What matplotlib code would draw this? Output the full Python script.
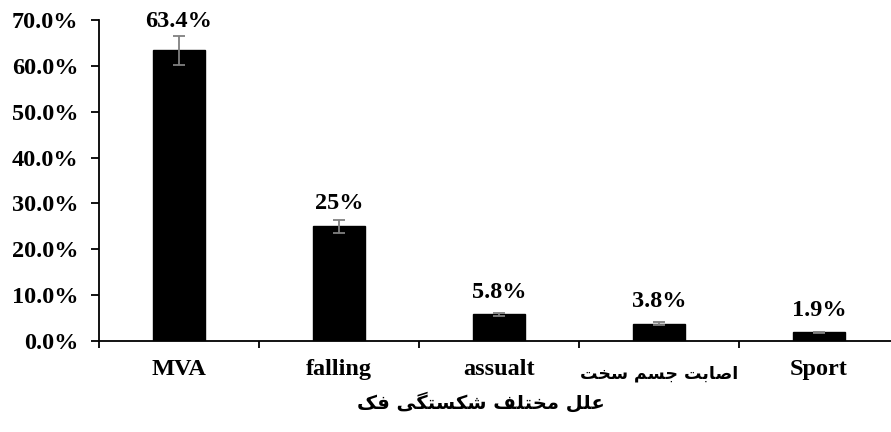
import matplotlib
matplotlib.use("Agg")
import matplotlib.pyplot as plt
from matplotlib.ticker import FixedLocator

# ---- data ----
categories = ['MVA', 'falling', 'assualt', 'اصابت جسم سخت', 'Sport']
values = [63.4, 25.0, 5.8, 3.8, 1.9]
errors = [3.2, 1.4, 0.3, 0.25, 0.15]
value_labels = ['63.4%', '25%', '5.8%', '3.8%', '1.9%']
yticks = [0, 10, 20, 30, 40, 50, 60, 70]
ytick_labels = ['0.0%', '10.0%', '20.0%', '30.0%', '40.0%', '50.0%', '60.0%', '70.0%']
xlabel_text = 'علل مختلف شکستگی فک'

# ---- minimal Arabic/Persian shaping (presentation forms + visual order) ----
FORMS = {
    '\u0627': ('\uFE8D', '\uFE8E', None, None),
    '\u0628': ('\uFE8F', '\uFE90', '\uFE91', '\uFE92'),
    '\u062A': ('\uFE95', '\uFE96', '\uFE97', '\uFE98'),
    '\u062C': ('\uFE9D', '\uFE9E', '\uFE9F', '\uFEA0'),
    '\u062E': ('\uFEA5', '\uFEA6', '\uFEA7', '\uFEA8'),
    '\u0633': ('\uFEB1', '\uFEB2', '\uFEB3', '\uFEB4'),
    '\u0634': ('\uFEB5', '\uFEB6', '\uFEB7', '\uFEB8'),
    '\u0635': ('\uFEB9', '\uFEBA', '\uFEBB', '\uFEBC'),
    '\u0639': ('\uFEC9', '\uFECA', '\uFECB', '\uFECC'),
    '\u0641': ('\uFED1', '\uFED2', '\uFED3', '\uFED4'),
    '\u0644': ('\uFEDD', '\uFEDE', '\uFEDF', '\uFEE0'),
    '\u0645': ('\uFEE1', '\uFEE2', '\uFEE3', '\uFEE4'),
    '\u06A9': ('\uFB8E', '\uFB8F', '\uFB90', '\uFB91'),
    '\u06AF': ('\uFB92', '\uFB93', '\uFB94', '\uFB95'),
    '\u06CC': ('\uFBFC', '\uFBFD', '\uFBFE', '\uFBFF'),
}


def shape(text):
    if not any(c in FORMS for c in text):
        return text
    out = []
    n = len(text)
    for i, c in enumerate(text):
        if c not in FORMS:
            out.append(c)
            continue
        f = FORMS[c]
        prev = text[i - 1] if i > 0 else None
        nxt = text[i + 1] if i < n - 1 else None
        jp = prev in FORMS and FORMS[prev][2] is not None
        jn = f[2] is not None and nxt in FORMS
        if jp and jn:
            out.append(f[3])
        elif jp:
            out.append(f[1])
        elif jn:
            out.append(f[2])
        else:
            out.append(f[0])
    return ''.join(reversed(out))


SERIF = ['Liberation Serif', 'DejaVu Serif']
SANS = ['DejaVu Sans']
FS = 17.5

fig = plt.figure(figsize=(8.91, 4.32), dpi=100)
W, H = 891, 432
ax = fig.add_axes([99 / W, (H - 341) / H, 800 / W, (341 - 20) / H])

x = list(range(len(categories)))
ax.bar(x, values, width=0.325, color='black', edgecolor='black', zorder=2)
ax.errorbar(x, values, yerr=errors, fmt='none', ecolor='#808080',
            elinewidth=1.3, capsize=4, capthick=1.3, zorder=3)

offsets = [29, 23, 22, 22, 22]
for xi, v, lab, off in zip(x, values, value_labels, offsets):
    ax.annotate(lab, (xi, v), xytext=(0, off * 0.72), textcoords='offset points',
                ha='center', va='center', fontsize=FS, fontweight='bold',
                family=SERIF, annotation_clip=False)

ax.set_xlim(-0.5, len(categories) - 0.5)
ax.set_ylim(0, 70)

ax.set_yticks(yticks)
ax.set_yticklabels(ytick_labels, fontsize=FS, fontweight='bold', family=SERIF)
ax.tick_params(axis='y', direction='out', length=6, width=1.3, pad=9)

ax.set_xticks(x)
ax.set_xticklabels([shape(c) for c in categories])
for i, t in enumerate(ax.get_xticklabels()):
    if any(ch in FORMS for ch in categories[i]):
        t.set_family(SANS)
        t.set_fontsize(12.5)
        t.set_fontweight('bold')
        t.set_y(-0.018)
    else:
        t.set_family(SERIF)
        t.set_fontsize(FS)
        t.set_fontweight('bold')
ax.tick_params(axis='x', which='major', length=0, pad=13)
ax.xaxis.set_minor_locator(FixedLocator([i - 0.5 for i in range(len(categories) + 1)]))
ax.tick_params(axis='x', which='minor', direction='out', length=5, width=1.3)

for s in ['top', 'right']:
    ax.spines[s].set_visible(False)
for s in ['left', 'bottom']:
    ax.spines[s].set_linewidth(1.3)

ax.set_xlabel(shape(xlabel_text), family=SANS, fontsize=14, fontweight='bold')
ax.xaxis.set_label_coords((481 - 99) / 800, -0.19)
ax.xaxis.label.set_va('center')

fig.savefig('out.png', dpi=100)
